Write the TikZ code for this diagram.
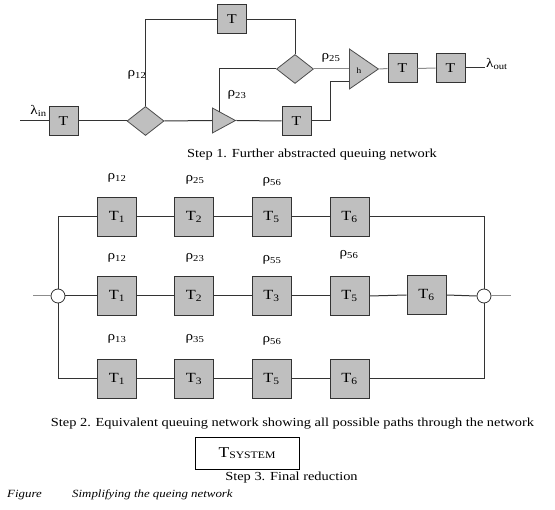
\documentclass[tikz,border=0pt]{standalone}
\usepackage{fontspec}
\setmainfont[FakeStretch=1.17]{Liberation Serif}
\usetikzlibrary{shapes.geometric}
\newcommand{\rhop}[1]{ρ\textsubscript{#1}}
\tikzset{
	wire/.style={draw=black!80, line width=1pt},
	faint/.style={draw=black!45, line width=1pt},
	qbox/.style={draw=black!80, line width=1pt, fill=black!25, minimum size=29pt, font=\fontsize{13.5}{15}\selectfont},
	qsbox/.style={qbox, minimum size=39pt, font=\fontsize{14}{16}\selectfont},
	split/.style={diamond, draw=black!70, line width=0.8pt, fill=black!25, minimum width=37pt, minimum height=29pt},
	merge/.style={isosceles triangle, isosceles triangle stretches, draw=black!70, line width=0.8pt, fill=black!25, anchor=west},
	hub/.style={circle, draw=black!80, line width=0.8pt, fill=white, minimum size=14pt},
	lbl/.style={font=\fontsize{13}{15}\selectfont},
	stepcap/.style={font=\fontsize{12.3}{14}\selectfont}
}
\begin{document}
\begin{tikzpicture}[x=1pt,y=1pt]
			\tikzstyle{every node}+=[inner sep=0pt]
			\useasboundingbox (0,0) rectangle (555,-510);
			\coordinate (ain) at (20,-121);
			\coordinate (aout) at (485,-68);
			\coordinate (knee) at (330,-82);
			\node [qbox] (qin) at (63.5,-121) {T};
			\node [split] (d1) at (145.5,-121) {};
			\node [qbox] (qtop) at (232,-19.5) {T};
			\node [merge, minimum width=25pt, minimum height=23pt] (m1) at (212,-120.5) {};
			\node [qbox] (qlow) at (296.5,-121) {T};
			\node [split] (d2) at (295,-69) {};
			\node [merge, minimum width=40pt, minimum height=29pt] (m2) at (349,-69) {};
			\node [font=\fontsize{8}{9}\selectfont] (mh) at (359,-71) {h};
			\node [qbox] (qo1) at (402.5,-68.5) {T};
			\node [qbox] (qo2) at (450.5,-68) {T};
			\node [lbl, anchor=south] (lin) at (38.5,-117) {λ\textsubscript{in}};
			\node [lbl, anchor=west] (lout) at (486,-64) {λ\textsubscript{out}};
			\node [lbl] (r12) at (137,-75) {\rhop{12}};
			\node [lbl] (r23) at (237,-95) {\rhop{23}};
			\node [lbl] (r25) at (331,-58) {\rhop{25}};
			\draw [wire] (ain) -- (qin.west);
			\draw [wire] (qin.east) -- (d1.west);
			\draw [wire] (d1.north) |- (qtop.west);
			\draw [wire] (qtop.east) -| (d2.north);
			\draw [wire] (d1.east) -- (m1.west);
			\draw [wire] (m1.apex) -- (qlow.west);
			\draw [wire] (m1.north) |- (d2.west);
			\draw [faint] (d2.east) -- (m2.west);
			\draw [wire] (qlow.east) -| (knee) -- (knee -| m2.west);
			\draw [faint] (m2.apex) -- (qo1.west);
			\draw [faint] (qo1.east) -- (qo2.west);
			\draw [wire] (qo2.east) -- (aout);
			\node [stepcap] (cap1) at (312,-155) {Step 1. Further abstracted queuing network};
			\coordinate (sin) at (33,-296);
			\coordinate (sout) at (511,-296);
			\node [hub] (jl) at (58,-296) {};
			\node [hub] (jr) at (484,-296) {};
			\node [qsbox] (a1) at (117,-217) {T\textsubscript{1}};
			\node [qsbox] (a2) at (194,-217) {T\textsubscript{2}};
			\node [qsbox] (a3) at (271.5,-217) {T\textsubscript{5}};
			\node [qsbox] (a4) at (349.5,-217) {T\textsubscript{6}};
			\node [qsbox] (b1) at (117,-296) {T\textsubscript{1}};
			\node [qsbox] (b2) at (194,-296) {T\textsubscript{2}};
			\node [qsbox] (b3) at (271.5,-296) {T\textsubscript{3}};
			\node [qsbox] (b4) at (349.5,-296) {T\textsubscript{5}};
			\node [qsbox] (b5) at (426.5,-295) {T\textsubscript{6}};
			\node [qsbox] (c1) at (117,-379) {T\textsubscript{1}};
			\node [qsbox] (c2) at (194,-379) {T\textsubscript{3}};
			\node [qsbox] (c3) at (271.5,-379) {T\textsubscript{5}};
			\node [qsbox] (c4) at (349.5,-379) {T\textsubscript{6}};
			\node [lbl] (ra1) at (117,-178) {\rhop{12}};
			\node [lbl] (ra2) at (195,-180) {\rhop{25}};
			\node [lbl] (ra3) at (272,-182) {\rhop{56}};
			\node [lbl] (rb1) at (117,-258) {\rhop{12}};
			\node [lbl] (rb2) at (195,-258) {\rhop{23}};
			\node [lbl] (rb3) at (272,-260) {\rhop{55}};
			\node [lbl] (rb4) at (349,-255) {\rhop{56}};
			\node [lbl] (rc1) at (117,-339) {\rhop{13}};
			\node [lbl] (rc2) at (195,-339) {\rhop{35}};
			\node [lbl] (rc3) at (272,-341) {\rhop{56}};
			\draw [faint] (sin) -- (jl.west);
			\draw [wire] (jl.north) |- (a1.west);
			\draw [wire] (jl.south) |- (c1.west);
			\draw [wire] (jl.east) -- (b1.west);
			\draw [wire] (a1.east) -- (a2.west);
			\draw [wire] (a2.east) -- (a3.west);
			\draw [wire] (a3.east) -- (a4.west);
			\draw [wire] (b1.east) -- (b2.west);
			\draw [wire] (b2.east) -- (b3.west);
			\draw [wire] (b3.east) -- (b4.west);
			\draw [wire] (b4.east) -- (b5.west);
			\draw [wire] (c1.east) -- (c2.west);
			\draw [wire] (c2.east) -- (c3.west);
			\draw [wire] (c3.east) -- (c4.west);
			\draw [wire] (a4.east) -| (jr.north);
			\draw [wire] (c4.east) -| (jr.south);
			\draw [wire] (b5.east) -- (jr.west);
			\draw [faint] (jr.east) -- (sout);
			\node [stepcap] (cap2) at (292.5,-424) {Step 2. Equivalent queuing network showing all possible paths through the network};
			\node [draw, line width=0.8pt, minimum width=104pt, minimum height=32pt, font=\fontsize{15}{17}\selectfont] (tsys) at (247,-453) {T\raisebox{-1.5pt}{\fontsize{10}{12}\selectfont SYSTEM}};
			\node [stepcap] (cap3) at (291.5,-478) {Step 3. Final reduction};
			\node [stepcap, font=\fontsize{11}{13}\selectfont\itshape, anchor=west] (fig) at (7,-495) {Figure};
			\node [stepcap, font=\fontsize{11}{13}\selectfont\itshape, anchor=west] (figt) at (72,-495) {Simplifying the queing network};
\end{tikzpicture}
\end{document}
